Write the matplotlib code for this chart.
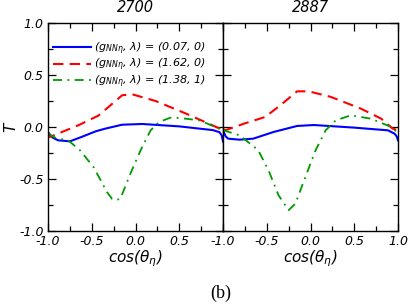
import matplotlib
matplotlib.use('Agg')
import matplotlib.pyplot as plt
from matplotlib.ticker import MultipleLocator
import numpy as np

plt.rcParams['font.family'] = 'DejaVu Sans'
plt.rcParams['font.style'] = 'italic'
plt.rcParams['mathtext.fontset'] = 'custom'
plt.rcParams['mathtext.it'] = 'DejaVu Sans:italic'
plt.rcParams['mathtext.rm'] = 'DejaVu Sans:italic'

titles = ['2700', '2887']
labels = [r'$(g_{NN\eta},\, \lambda)$ = (0.07, 0)',
          r'$(g_{NN\eta},\, \lambda)$ = (1.62, 0)',
          r'$(g_{NN\eta},\, \lambda)$ = (1.38, 1)']

# panel 2700
blue_x_2700 = [-1.0, -0.95, -0.885, -0.75, -0.615, -0.45, -0.346, -0.153, 0.077, 0.5, 0.885, 0.96, 0.985, 1.0]
blue_y_2700 = [-0.05, -0.1, -0.128, -0.138, -0.095, -0.04, -0.016, 0.022, 0.029, 0.006, -0.03, -0.05, -0.08, -0.14]
red_x_2700 = [-1.0, -0.98, -0.654, -0.423, -0.153, -0.04, 0.23, 0.577, 0.923, 1.0]
red_y_2700 = [-0.05, -0.096, 0.016, 0.11, 0.305, 0.315, 0.25, 0.129, 0.0, -0.03]
green_x_2700 = [-1.0, -0.9, -0.77, -0.634, -0.48, -0.326, -0.269, -0.23, -0.173, -0.058, 0.058,
                0.173, 0.269, 0.4, 0.5, 0.73, 0.96, 1.0]
green_y_2700 = [-0.064, -0.11, -0.128, -0.224, -0.385, -0.625, -0.69, -0.705, -0.69, -0.448, -0.224,
                -0.032, 0.048, 0.09, 0.087, 0.064, -0.016, -0.06]

# panel 2887
blue_x_2887 = [-1.0, -0.97, -0.942, -0.81, -0.654, -0.423, -0.153, 0.038, 0.5, 0.885, 0.96, 0.985, 1.0]
blue_y_2887 = [-0.03, -0.09, -0.112, -0.122, -0.112, -0.048, 0.01, 0.019, -0.006, -0.032, -0.064, -0.09, -0.128]
red_x_2887 = [-1.0, -0.97, -0.75, -0.519, -0.346, -0.153, -0.02, 0.23, 0.577, 0.808, 0.94, 1.0]
red_y_2887 = [-0.02, -0.03, 0.035, 0.096, 0.208, 0.343, 0.343, 0.29, 0.176, 0.08, -0.016, -0.03]
green_x_2887 = [-1.0, -0.81, -0.6, -0.48, -0.365, -0.25, -0.173, -0.058, 0.058, 0.173, 0.288,
                0.404, 0.46, 0.692, 0.923, 1.0]
green_y_2887 = [-0.03, -0.08, -0.22, -0.416, -0.657, -0.80, -0.737, -0.48, -0.224, -0.032, 0.064,
                0.096, 0.112, 0.08, 0.0, -0.06]

panels = [
    (blue_x_2700, blue_y_2700, red_x_2700, red_y_2700, green_x_2700, green_y_2700),
    (blue_x_2887, blue_y_2887, red_x_2887, red_y_2887, green_x_2887, green_y_2887),
]

fig = plt.figure(figsize=(4.09, 3.06), dpi=100)
ax1 = fig.add_axes([48 / 409, 1 - 231 / 306, 175 / 409, 208 / 306])
ax2 = fig.add_axes([223 / 409, 1 - 231 / 306, 175 / 409, 208 / 306])

for i, (ax, data) in enumerate(zip([ax1, ax2], panels)):
    bx, by, rx, ry, gx, gy = data
    ax.plot(bx, by, color='#0000ff', lw=1.5, label=labels[0])
    ax.plot(rx, ry, color='#ff0000', lw=1.5, dashes=(5, 3), label=labels[1])
    ax.plot(gx, gy, color='#009900', lw=1.3, dashes=(5, 3, 1, 3), label=labels[2])
    ax.set_xlim(-1, 1)
    ax.set_ylim(-1, 1)
    ax.xaxis.set_major_locator(MultipleLocator(0.5))
    ax.xaxis.set_minor_locator(MultipleLocator(0.25))
    ax.yaxis.set_major_locator(MultipleLocator(0.5))
    ax.yaxis.set_minor_locator(MultipleLocator(0.25))
    ax.tick_params(which='both', direction='in', top=True, right=True, width=0.9,
                   labelsize=9, pad=3)
    ax.tick_params(which='major', length=6)
    ax.tick_params(which='minor', length=3.5)
    for s in ax.spines.values():
        s.set_linewidth(1.0)
    ax.set_title(titles[i], fontsize=10.5, pad=8)
    ax.set_xlabel(r'cos($\theta_\eta$)', fontsize=11, labelpad=0)

ax1.set_xticks([-1.0, -0.5, 0.0, 0.5])
ax1.set_xticklabels(['-1.0', '-0.5', '0.0', '0.5'])
ax1.xaxis.set_minor_locator(MultipleLocator(0.25))
ax1.set_yticks([-1.0, -0.5, 0.0, 0.5, 1.0])
ax1.set_yticklabels(['-1.0', '-0.5', '0.0', '0.5', '1.0'])
ax2.set_xticks([-1.0, -0.5, 0.0, 0.5, 1.0])
ax2.set_xticklabels(['-1.0', '-0.5', '0.0', '0.5', '1.0'])
ax2.tick_params(labelleft=False)

fig.text(11 / 409, 1 - 127 / 306, 'T', fontsize=11, rotation=90,
         ha='center', va='center')

ax1.legend(loc='upper left', bbox_to_anchor=(0.03, 0.915), frameon=False,
           fontsize=8, handlelength=3.4, handletextpad=0.3, labelspacing=0.0,
           borderpad=0, borderaxespad=0)

fig.text(221 / 409, 1 - 293 / 306, '(b)', fontsize=13, family='Liberation Serif',
         style='normal', ha='center', va='center')

fig.savefig('out.png', dpi=100)
